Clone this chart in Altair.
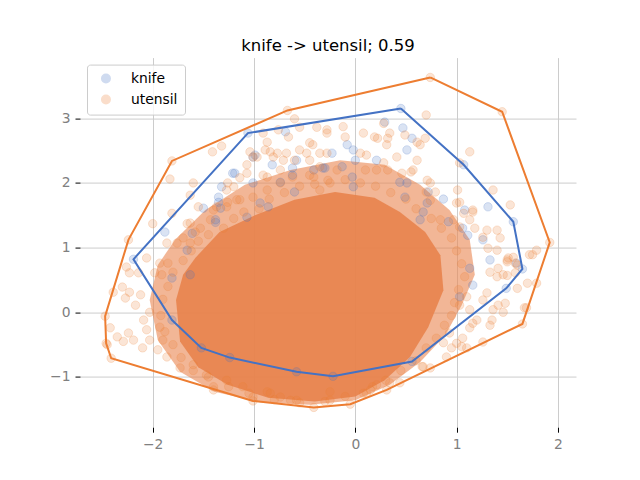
import altair as alt
import pandas as pd

BLUE = "#4472c4"
ORANGE = "#ed7d31"
GROUPS = ["knife", "utensil"]

# -----------------------------
# DATA
# -----------------------------
knife_pts = [
    (0.45, 3.15), (1.07, 2.28), (1.56, 1.40), (1.65, 0.67), (1.49, 0.37), (0.56, -0.76),
    (-0.22, -0.99), (-0.58, -0.92), (-1.24, -0.70), (-1.52, -0.55), (-1.81, -0.12),
    (-2.19, 0.82), (-1.06, 2.77),
    (-1.01, 2.40), (-0.82, 2.28), (-0.58, 2.35), (-0.41, 2.20), (-0.30, 2.23), (-1.21, 2.15),
    (-1.32, 1.94), (-1.35, 1.78), (-1.50, 1.61), (-1.38, 1.39), (-1.88, 1.24), (-1.61, 1.22),
    (-1.07, 1.47), (-0.94, 1.69), (-0.62, 2.12), (-0.69, 2.79), (-0.08, 2.59), (-0.02, 2.51),
    (0.00, 2.35), (-0.23, 2.46), (-0.32, 2.23), (-0.62, 2.23), (-0.99, 2.43), (-1.19, 2.15),
    (-1.01, 2.00), (-0.74, 2.01), (-0.60, 1.86), (-1.35, 1.70), (-1.33, 1.61), (-1.38, 1.43),
    (-0.86, 1.63), (-1.66, 0.96), (-0.02, 1.94), (-0.13, 2.25), (-0.03, 2.09), (0.21, 2.35),
    (0.29, 2.94), (0.47, 2.85), (0.56, 2.69), (0.51, 2.51), (0.44, 2.01), (0.51, 2.00),
    (0.49, 1.78), (0.72, 1.86), (0.87, 1.75), (1.08, 1.58), (1.31, 1.63), (0.92, 1.40),
    (1.11, 1.19), (1.06, 1.30), (0.64, 1.43), (0.67, 1.55), (1.26, 1.12), (1.59, 0.76),
    (1.33, 0.81), (0.71, 1.69), (1.16, 0.42), (1.13, 0.68), (1.03, 0.24),
    (-1.81, 0.53), (-1.63, 0.58),
]

utensil_pts = [
    # hull corners
    (0.74, 3.63), (1.45, 3.10), (1.92, 1.08), (1.65, -0.18), (0.31, -1.20), (-0.05, -1.42),
    (-0.41, -1.47), (-1.01, -1.37), (-2.41, -0.71), (-2.46, -0.48), (-2.47, -0.06),
    (-2.24, 1.12), (-1.81, 2.34), (-0.67, 3.12),
    # upper left
    (-1.83, 2.06), (-2.00, 1.37), (-1.81, 1.53), (-1.66, 1.37), (-1.58, 1.24), (-1.41, 2.48),
    (-1.32, 2.57), (-1.04, 2.48), (-0.91, 2.77), (-0.76, 2.82), (-0.66, 2.71), (-0.60, 2.99),
    (-0.55, 2.86), (-0.38, 2.86), (-0.45, 2.62), (-0.35, 2.46), (-0.28, 2.77), (-0.81, 2.40),
    (-0.71, 2.35), (-0.87, 2.09), (-1.01, 2.40), (-1.07, 2.28), (-1.14, 2.08), (-1.26, 2.00),
    (-1.60, 2.00), (-1.63, 1.81), (-1.55, 1.63), (-1.40, 1.58), (-1.27, 1.63), (-1.17, 1.74),
    (-1.01, 1.78), (-0.87, 1.89), (-0.74, 2.00), (-0.62, 2.09), (-0.45, 2.35), (-0.41, 2.09),
    (-0.35, 1.89), (-0.55, 2.51), (-1.86, 1.07), (-1.76, 1.07), (-1.63, 1.07),
    (-1.70, 1.15), (-1.63, 1.38), (-1.53, 1.30), (-1.43, 1.43), (-1.27, 1.89), (-1.07, 2.15),
    (-0.97, 2.40), (-0.87, 2.63), (-0.89, 2.51), (-0.84, 2.48), (-0.77, 2.46), (-0.68, 2.46),
    (-0.60, 2.35), (-0.48, 2.46), (-0.42, 2.59), (-0.28, 2.46), (-0.45, 2.12), (-0.35, 2.25),
    (-0.27, 2.04), (-0.18, 2.20), (-0.28, 2.82), (-0.10, 2.71), (-0.12, 2.87), (0.08, 2.77),
    (0.19, 2.71), (0.05, 2.46), (0.11, 2.43), (-0.74, 2.20), (-0.91, 2.12), (-1.20, 1.94),
    (-1.37, 1.63), (-1.26, 1.70), (-1.14, 1.74),
    # upper right
    (0.70, 3.05), (0.28, 2.92), (0.34, 2.77), (0.22, 2.69), (0.32, 2.69), (0.31, 2.59),
    (0.49, 2.74), (0.61, 2.63), (0.69, 2.69), (0.64, 2.59), (0.41, 2.40), (0.61, 2.35),
    (1.13, 2.48), (1.03, 2.31), (0.28, 2.31), (0.10, 2.20), (0.21, 2.20), (0.32, 2.20),
    (0.55, 2.17), (0.46, 2.15), (1.01, 1.89), (1.36, 1.89), (1.53, 1.66), (1.16, 1.55),
    (1.00, 1.69), (0.74, 2.00), (0.70, 1.86),
    (1.75, 0.89), (1.79, 0.96), (1.56, 0.85), (1.51, 0.84), (1.40, 1.27), (1.43, 1.15),
    (1.30, 1.27), (1.26, 1.16), (1.16, 1.58), (1.03, 1.70), (1.13, 1.43), (1.18, 1.30),
    (1.07, 1.53), (0.97, 1.43), (1.03, 1.32), (0.84, 1.43), (1.31, 0.99), (1.40, 0.96),
    (1.50, 0.81), (0.71, 2.04), (0.74, 1.73), (0.79, 1.86), (0.57, 2.20),
    # lower right
    (1.69, 0.07), (1.79, 0.45), (1.70, 0.45), (1.60, 0.37), (1.46, 0.00), (1.35, -0.12),
    (1.33, -0.20), (1.36, 0.04), (1.41, 0.11), (1.26, -0.46), (1.16, -0.17), (1.20, -0.12),
    (1.13, -0.24), (1.06, -0.40), (1.10, -0.55), (1.05, -0.53), (0.95, -0.55), (0.87, -0.47),
    (0.93, -0.32), (0.90, -0.69), (0.74, -0.86), (0.66, -0.84), (0.44, -1.09), (0.21, -1.12),
    (1.41, 0.68), (1.50, 0.57), (1.40, 0.55), (1.33, 0.62), (1.58, 0.76), (1.03, 0.11),
    (1.13, 0.04), (1.10, 0.24), (1.26, 0.19), (1.30, 0.30), (1.72, 0.89), (1.60, 0.73),
    (1.50, 0.78), (1.58, 0.61), (1.46, 0.58), (1.67, 0.07), (1.48, 0.14),
    # left
    (-2.06, 0.84), (-2.23, 0.61), (-2.14, 0.61), (-2.26, 0.70), (-1.93, 0.76), (-1.85, 0.76),
    (-1.98, 0.61), (-1.91, 0.58), (-2.39, 0.31), (-2.30, 0.39), (-2.27, 0.22), (-2.23, 0.31),
    (-2.12, 0.27), (-2.17, 0.11), (-2.03, 0.00), (-2.42, -0.24), (-2.35, -0.38), (-2.45, -0.50),
    (-2.29, -0.45), (-2.24, -0.32), (-2.19, -0.43), (-2.10, -0.55), (-2.09, -0.12), (-2.06, -0.27),
    (-2.03, -0.43), (-1.95, -0.58), (-1.86, -0.69), (-1.93, -0.23), (-1.90, -0.43), (-1.73, -0.86),
    (-1.60, -0.81), (-1.47, -0.97), (-1.40, -1.15), (-1.27, -1.05), (-1.11, -1.15), (-1.01, -1.31),
    (-0.87, -1.23), (-0.74, -1.31), (-0.58, -1.36),
    # bottom
    (-1.40, -1.20), (-0.64, -1.36), (-0.84, -1.25), (0.11, -1.25), (0.17, -1.15), (-0.25, -1.36),
    (-0.25, -1.23), (0.08, -1.25), (0.34, -1.09), (0.67, -0.84), (1.00, -0.48),
    # rim of the dense blob
    (-1.55, 1.10), (-1.45, 1.20), (-1.30, 1.30), (-1.20, 1.45), (-1.10, 1.55), (-0.95, 1.60),
    (-0.85, 1.75), (-0.70, 1.85), (-0.55, 1.95), (-0.40, 1.98), (-0.25, 2.00), (-0.10, 2.05),
    (0.05, 2.00), (0.20, 1.95), (0.35, 1.85), (0.50, 1.75), (0.60, 1.60), (0.75, 1.45),
    (0.85, 1.30), (0.95, 1.15), (1.00, 0.95), (1.05, 0.75), (1.08, 0.55), (1.02, 0.35),
    (0.98, 0.15), (0.95, -0.05), (0.88, -0.20), (0.80, -0.40), (0.70, -0.55), (0.60, -0.75),
    (0.45, -0.90), (0.30, -1.05), (0.15, -1.20), (-0.10, -1.30), (-0.30, -1.38), (-0.55, -1.40),
    (-0.80, -1.35), (-1.05, -1.25), (-1.25, -1.15), (-1.45, -1.00), (-1.60, -0.90), (-1.72, -0.70),
    (-1.80, -0.50), (-1.88, -0.30), (-1.92, -0.05), (-1.90, 0.20), (-1.85, 0.40), (-1.80, 0.62),
    (-1.70, 0.80), (-1.62, 0.95),
]

# outlines of the convex hulls, in drawing order
knife_hull = [
    (0.45, 3.15), (1.07, 2.28), (1.56, 1.40), (1.65, 0.67), (1.49, 0.37), (0.56, -0.76),
    (-0.22, -0.99), (-0.58, -0.92), (-1.24, -0.70), (-1.52, -0.55), (-1.81, -0.12),
    (-2.19, 0.82), (-1.06, 2.77),
]
utensil_hull = [
    (0.74, 3.63), (1.45, 3.10), (1.92, 1.08), (1.65, -0.18), (0.31, -1.20), (-0.05, -1.42),
    (-0.41, -1.47), (-1.01, -1.37), (-2.41, -0.71), (-2.46, -0.48), (-2.47, -0.06),
    (-2.24, 1.12), (-1.81, 2.34), (-0.67, 3.12),
]

# where the utensil cloud is so dense it reads as a solid blob
utensil_halo = [
    (-1.78, 1.12), (-1.48, 1.58), (-1.09, 1.97), (-0.64, 2.20), (-0.15, 2.35), (0.29, 2.28),
    (0.64, 1.97), (0.93, 1.58), (1.13, 1.12), (1.18, 0.58), (1.05, 0.11), (0.89, -0.35),
    (0.64, -0.77), (0.34, -1.12), (0.00, -1.36), (-0.45, -1.43), (-0.94, -1.39), (-1.39, -1.23),
    (-1.73, -0.92), (-1.95, -0.43), (-2.03, 0.19), (-1.95, 0.73),
]
utensil_core = [
    (-1.58, 0.84), (-1.34, 1.24), (-0.99, 1.50), (-0.60, 1.74), (-0.20, 1.86), (0.19, 1.77),
    (0.44, 1.55), (0.69, 1.24), (0.84, 0.88), (0.87, 0.34), (0.72, -0.23), (0.54, -0.69),
    (0.29, -1.05), (0.00, -1.30), (-0.40, -1.38), (-0.86, -1.32), (-1.26, -1.12), (-1.55, -0.85),
    (-1.73, -0.45), (-1.77, 0.19), (-1.70, 0.58),
]

X_DOMAIN = [-2.718, 2.179]
Y_DOMAIN = [-1.776, 3.937]
X_TICKS = [-2, -1, 0, 1, 2]
Y_TICKS = [-1, 0, 1, 2, 3]


def _frame(pts, closed=False):
    if closed:
        pts = pts + pts[:1]
    return pd.DataFrame({"x": [p[0] for p in pts], "y": [p[1] for p in pts], "i": range(len(pts))})


def _xy():
    return dict(
        x=alt.X("x:Q", scale=alt.Scale(domain=X_DOMAIN, nice=False, zero=False),
                axis=alt.Axis(values=X_TICKS, title=None)),
        y=alt.Y("y:Q", scale=alt.Scale(domain=Y_DOMAIN, nice=False, zero=False),
                axis=alt.Axis(values=Y_TICKS, title=None)),
    )


k = _frame(knife_pts).assign(group="knife")
u = _frame(utensil_pts).assign(group="utensil")
points_df = pd.concat([k, u], ignore_index=True)

color_scale = alt.Scale(domain=GROUPS, range=[BLUE, ORANGE])

halo = alt.Chart(_frame(utensil_halo)).mark_line(
    filled=True, color="#e98550", opacity=0.6
).encode(**_xy(), order="i:Q")

core = alt.Chart(_frame(utensil_core)).mark_line(
    filled=True, color="#e8834c", opacity=0.9
).encode(**_xy(), order="i:Q")

points = alt.Chart(points_df).mark_point(
    filled=True, size=72, fillOpacity=0.2, strokeOpacity=0.2, strokeWidth=1
).encode(
    **_xy(),
    color=alt.Color("group:N", scale=color_scale, title=None,
                    legend=alt.Legend(orient="none", legendX=7, legendY=7)),
    stroke=alt.Stroke("group:N", scale=color_scale, legend=None),
)

knife_line = alt.Chart(_frame(knife_hull, closed=True)).mark_line(
    color=BLUE, strokeWidth=2
).encode(**_xy(), order="i:Q")

utensil_line = alt.Chart(_frame(utensil_hull, closed=True)).mark_line(
    color=ORANGE, strokeWidth=2
).encode(**_xy(), order="i:Q")

chart = alt.layer(halo, core, points, knife_line, utensil_line).properties(
    width=496,
    height=369.6,
    padding={"left": 72, "top": 49.6, "right": 56, "bottom": 44},
    autosize=alt.AutoSizeParams(type="none"),
    title=alt.TitleParams("knife -> utensil; 0.59", fontSize=16.5, fontWeight="normal",
                          font="DejaVu Sans", color="black", offset=8, dy=18,
                          baseline="alphabetic"),
).configure(font="DejaVu Sans").configure_view(stroke=None).configure_axis(
    domain=False,
    grid=True,
    gridColor="#cccccc",
    gridWidth=1,
    tickColor="black",
    tickSize=5,
    tickWidth=1,
    labelColor="#808080",
    labelFontSize=13.9,
    labelPadding=5,
    zindex=1,
).configure_legend(
    padding=7,
    symbolType="circle",
    symbolSize=72,
    symbolOpacity=0.25,
    symbolOffset=5,
    labelOffset=18,
    labelFontSize=13.9,
    labelColor="black",
    rowPadding=5,
    strokeColor="#cccccc",
    fillColor="rgba(255,255,255,0.8)",
    cornerRadius=3,
)

chart.save("out.html", embed_options={"renderer": "svg", "actions": False})
